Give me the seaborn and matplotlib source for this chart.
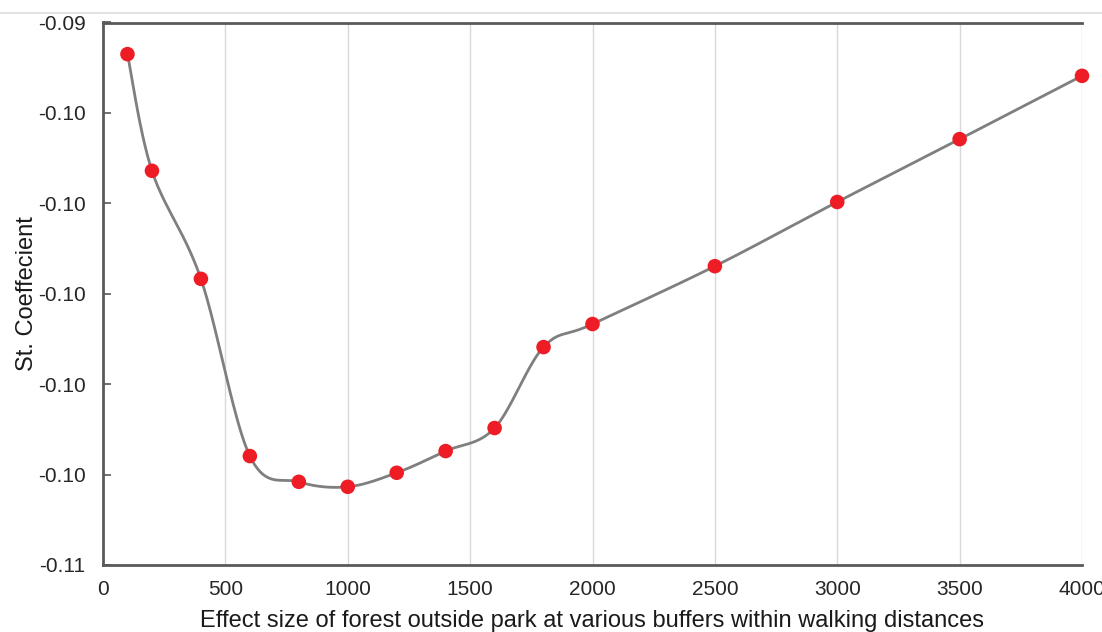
import numpy as np
import pandas as pd
import matplotlib
matplotlib.use("Agg")
import matplotlib.pyplot as plt
from matplotlib.lines import Line2D
from matplotlib.ticker import FuncFormatter
import seaborn as sns

# Data
buffers = [100, 200, 400, 600, 800, 1000, 1200, 1400, 1600, 1800, 2000, 2500, 3000, 3500, 4000]
coef = [-0.09470, -0.09728, -0.09967, -0.10359, -0.10416, -0.10427, -0.10396, -0.10348,
        -0.10297, -0.10118, -0.10067, -0.09939, -0.09797, -0.09658, -0.09518]
x_ticks = [0, 500, 1000, 1500, 2000, 2500, 3000, 3500, 4000]
y_ticks = [-0.094, -0.096, -0.098, -0.100, -0.102, -0.104, -0.106]
x_label = "Effect size of forest outside park at various buffers within walking distances"
y_label = "St. Coeffecient"

sns.set_theme(style="white")
plt.rcParams['font.family'] = ['Liberation Sans', 'DejaVu Sans']

fig = plt.figure(figsize=(11.02, 6.32), dpi=100)
ax = fig.add_axes([103/1102, (632-565)/632, (1082-103)/1102, (565-22.5)/632])

xmin, xmax = 0, 4000
ymin, ymax = -0.106, -0.094
ax.set_xlim(xmin, xmax)
ax.set_ylim(ymin, ymax)

# Excel-style smoothed line (Catmull-Rom Bezier in screen-normalised space)
sx = 979 / (xmax - xmin)
sy = 542.5 / (ymax - ymin)
P = np.column_stack([np.array(buffers) * sx, np.array(coef) * sy])
n = len(P)
curve = []
for i in range(n - 1):
    p0 = P[i - 1] if i > 0 else P[i]
    p1 = P[i]
    p2 = P[i + 1]
    p3 = P[i + 2] if i + 2 < n else P[i + 1]
    c1 = p1 + (p2 - p0) / 6
    c2 = p2 - (p3 - p1) / 6
    t = np.linspace(0, 1, 40)[:, None]
    seg = (1 - t) ** 3 * p1 + 3 * (1 - t) ** 2 * t * c1 + 3 * (1 - t) * t ** 2 * c2 + t ** 3 * p2
    curve.append(seg if i == 0 else seg[1:])
curve = np.vstack(curve)
df_line = pd.DataFrame({"x": curve[:, 0] / sx, "y": curve[:, 1] / sy})
df_pts = pd.DataFrame({"x": buffers, "y": coef})

# gridlines
ax.set_xticks(x_ticks)
ax.set_yticks(y_ticks)
for xv in x_ticks[1:]:
    ax.axvline(xv, color="#d9d9d9", lw=1.0, zorder=0)

sns.lineplot(data=df_line, x="x", y="y", ax=ax, color="#7f7f7f", lw=2.0, sort=False,
             estimator=None, zorder=2)
sns.scatterplot(data=df_pts, x="x", y="y", ax=ax, color="#ee1c25", s=110,
                edgecolor="none", linewidth=0, zorder=3, clip_on=False)

ax.yaxis.set_major_formatter(FuncFormatter(lambda v, p: f"{v:.2f}"))
ax.tick_params(axis="y", direction="in", length=6, width=1.2, color="#595959",
               labelsize=15, labelcolor="#262626", pad=12.5, left=True)
ax.tick_params(axis="x", length=0, labelsize=15, labelcolor="#262626", pad=10.5)

for side in ["left", "top", "bottom"]:
    ax.spines[side].set_color("#595959")
    ax.spines[side].set_linewidth(2.0)
ax.spines["right"].set_visible(False)

ax.set_xlabel(x_label, fontsize=17, color="#1a1a1a", labelpad=8)
ax.set_ylabel(y_label, fontsize=17, color="#1a1a1a", labelpad=0)

fig.add_artist(Line2D([0, 1], [1 - 13/632, 1 - 13/632], color="#e3e3e3", lw=1.5,
                      transform=fig.transFigure))

fig.savefig("out.png", dpi=100, facecolor="white")
